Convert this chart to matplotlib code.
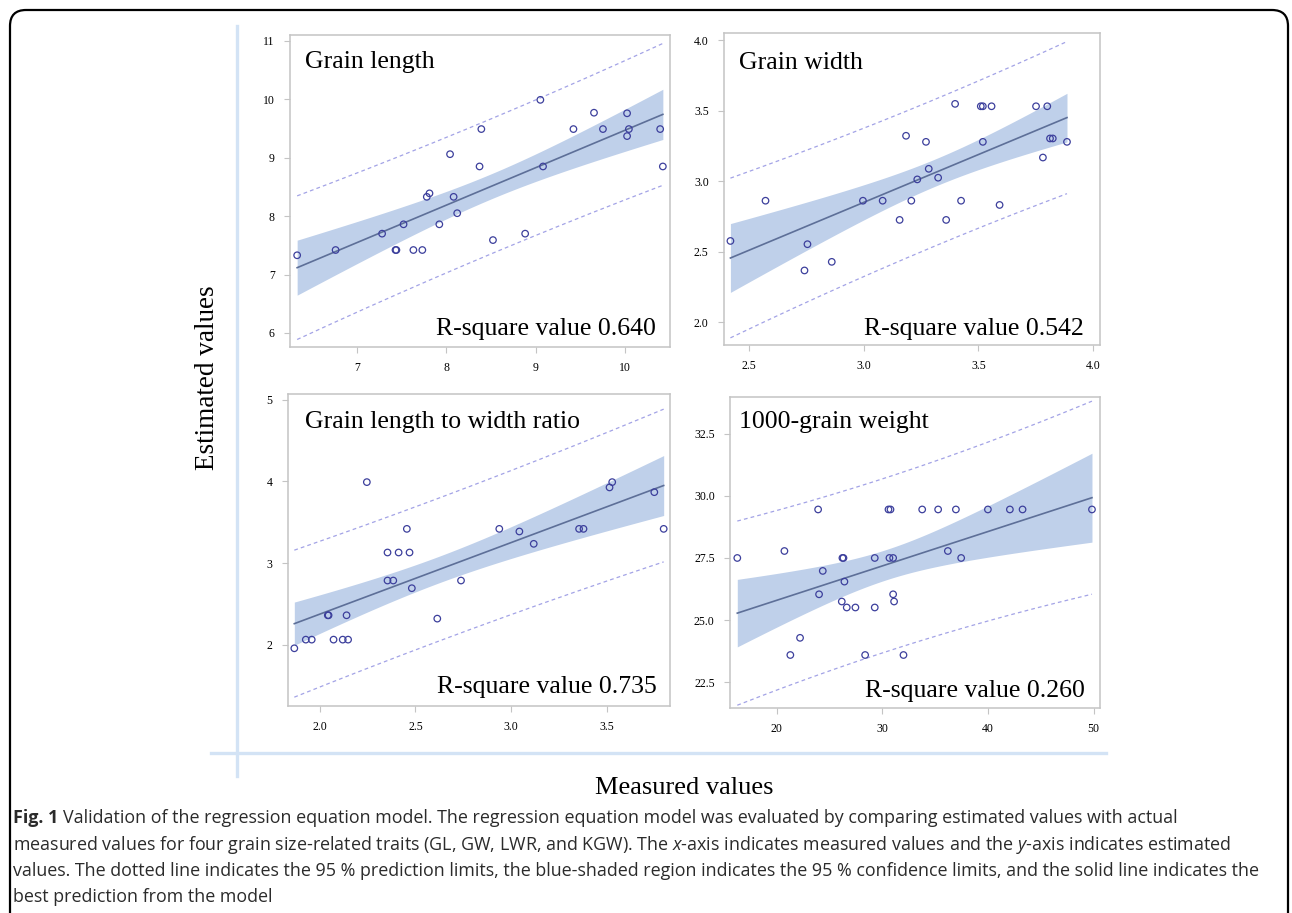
import matplotlib
matplotlib.use("Agg")
import matplotlib.pyplot as plt
from matplotlib.lines import Line2D
from matplotlib.patches import FancyBboxPatch
import numpy as np

# values
gl_x = [6.33, 6.76, 7.28, 7.43, 7.44, 7.52, 7.63, 7.73, 7.78, 7.81, 7.92, 8.04, 8.08, 8.12,
        8.37, 8.39, 8.52, 8.88, 9.05, 9.08, 9.42, 9.65, 9.75, 10.02, 10.02, 10.04, 10.39, 10.42]
gl_y = [7.33, 7.42, 7.70, 7.42, 7.42, 7.86, 7.42, 7.42, 8.33, 8.39, 7.86, 9.06, 8.33, 8.05,
        8.85, 9.49, 7.59, 7.70, 9.99, 8.85, 9.49, 9.77, 9.49, 9.76, 9.37, 9.49, 9.49, 8.85]

gw_x = [2.418, 2.571, 2.741, 2.754, 2.860, 2.996, 3.082, 3.156, 3.184, 3.207, 3.233, 3.271,
        3.283, 3.324, 3.359, 3.398, 3.424, 3.510, 3.519, 3.519, 3.557, 3.592, 3.751, 3.781,
        3.800, 3.812, 3.824, 3.886]
gw_y = [2.577, 2.862, 2.368, 2.554, 2.429, 2.862, 2.862, 2.726, 3.322, 2.862, 3.013, 3.279,
        3.088, 3.025, 2.726, 3.548, 2.862, 3.531, 3.531, 3.279, 3.531, 2.832, 3.531, 3.168,
        3.531, 3.303, 3.303, 3.279]

lwr_x = [1.867, 1.927, 1.958, 2.042, 2.046, 2.072, 2.120, 2.140, 2.148, 2.246, 2.354, 2.354,
         2.384, 2.412, 2.455, 2.469, 2.481, 2.614, 2.738, 2.938, 3.043, 3.118, 3.355, 3.378,
         3.514, 3.528, 3.748, 3.797]
lwr_y = [1.959, 2.065, 2.065, 2.363, 2.363, 2.065, 2.065, 2.363, 2.065, 3.992, 3.131, 2.788,
         2.788, 3.131, 3.420, 3.131, 2.694, 2.322, 2.788, 3.420, 3.388, 3.237, 3.420, 3.420,
         3.927, 3.992, 3.869, 3.420]

kgw_x = [16.27, 20.73, 21.29, 22.21, 23.92, 24.01, 24.36, 26.16, 26.22, 26.32, 26.41, 26.63,
         27.45, 28.37, 29.28, 29.28, 30.58, 30.77, 30.67, 31.02, 31.02, 31.11, 32.0, 33.77,
         35.28, 36.2, 36.96, 37.46, 39.99, 42.07, 43.27, 49.84]
kgw_y = [27.5, 27.78, 23.6, 24.29, 29.45, 26.04, 26.98, 25.75, 27.5, 27.5, 26.55, 25.51,
         25.51, 23.6, 27.5, 25.51, 29.45, 29.45, 27.5, 27.5, 26.04, 25.75, 23.6, 29.45,
         29.45, 27.78, 29.45, 27.5, 29.45, 29.45, 29.45, 29.45]

titles = ["Grain length", "Grain width", "Grain length to width ratio", "1000-grain weight"]
r2_labels = ["R-square value 0.640", "R-square value 0.542",
             "R-square value 0.735", "R-square value 0.260"]
xticks = [[7, 8, 9, 10], [2.5, 3.0, 3.5, 4.0], [2.0, 2.5, 3.0, 3.5], [20, 30, 40, 50]]
yticks = [[6, 7, 8, 9, 10, 11], [2.0, 2.5, 3.0, 3.5, 4.0], [2, 3, 4, 5],
          [22.5, 25.0, 27.5, 30.0, 32.5]]
xtick_fmt = ["{:.0f}", "{:.1f}", "{:.1f}", "{:.0f}"]
ytick_fmt = ["{:.0f}", "{:.1f}", "{:.0f}", "{:.1f}"]

SERIF = "Liberation Serif"
PT_COLOR = "#3c3f9c"
LINE_COLOR = "#5d6f98"
BAND_COLOR = "#bfd0ea"
PI_COLOR = "#a3a3e6"
FRAME_COLOR = "#c4c4c4"


def fit_bands(x, y, xs, t=2.05):
    """OLS line with 95 % confidence and prediction limits."""
    x = np.asarray(x, float)
    y = np.asarray(y, float)
    n = len(x)
    slope, icpt = np.polyfit(x, y, 1)
    resid = y - (icpt + slope * x)
    s = np.sqrt(np.sum(resid ** 2) / (n - 2))
    sxx = np.sum((x - x.mean()) ** 2)
    yhat = icpt + slope * xs
    se_m = s * np.sqrt(1.0 / n + (xs - x.mean()) ** 2 / sxx)
    se_p = s * np.sqrt(1.0 + 1.0 / n + (xs - x.mean()) ** 2 / sxx)
    return yhat, t * se_m, t * se_p


fig = plt.figure(figsize=(12.92, 9.13), dpi=100)

# rounded frame around the whole figure
frame = FancyBboxPatch((0.10, -0.30), 12.78, 9.33, boxstyle="round,pad=0,rounding_size=0.16",
                       transform=fig.dpi_scale_trans, fill=False, lw=1.6, ec="black")
fig.patches.append(frame)

W, H = 1292.0, 913.0
# light blue L-shaped axis lines
fig.add_artist(Line2D([237 / W, 237 / W], [1 - 26 / H, 1 - 776 / H], color="#d3e3f5", lw=2.4,
                      transform=fig.transFigure))
fig.add_artist(Line2D([211 / W, 1106 / W], [1 - 753 / H, 1 - 753 / H], color="#d3e3f5", lw=2.4,
                      transform=fig.transFigure))

# panel boxes in pixels: left, top, right, bottom
boxes = [(290, 35, 670, 347), (724, 33, 1100, 345), (288, 394, 670, 706), (730, 397, 1100, 708)]
xlims = [(6.25, 10.5), (2.39, 4.03), (1.834, 3.83), (15.58, 50.6)]
ylims = [(5.76, 11.1), (1.84, 4.05), (1.253, 5.07), (21.47, 33.97)]
title_pos = [(0.039, 0.894), (0.040, 0.885), (0.045, 0.891), (0.024, 0.900)]
r2_pos = [(0.963, 0.038), (0.957, 0.032), (0.966, 0.042), (0.959, 0.035)]
datasets = [(gl_x, gl_y), (gw_x, gw_y), (lwr_x, lwr_y), (kgw_x, kgw_y)]

for i, (xv, yv) in enumerate(datasets):
    l, t, r, b = boxes[i]
    ax = fig.add_axes([l / W, 1 - b / H, (r - l) / W, (b - t) / H])
    xs = np.linspace(min(xv), max(xv), 200)
    yhat, ci, pi = fit_bands(xv, yv, xs)
    ax.fill_between(xs, yhat - ci, yhat + ci, color=BAND_COLOR, lw=0, zorder=1)
    ax.plot(xs, yhat, color=LINE_COLOR, lw=1.2, zorder=2)
    ax.plot(xs, yhat + pi, color=PI_COLOR, lw=0.9, ls=(0, (3, 2.5)), zorder=2)
    ax.plot(xs, yhat - pi, color=PI_COLOR, lw=0.9, ls=(0, (3, 2.5)), zorder=2)
    ax.scatter(xv, yv, s=22, facecolors="none", edgecolors=PT_COLOR, linewidths=0.9, zorder=3)

    ax.set_xlim(*xlims[i])
    ax.set_ylim(*ylims[i])
    ax.set_xticks(xticks[i])
    ax.set_xticklabels([xtick_fmt[i].format(v) for v in xticks[i]])
    ax.set_yticks(yticks[i])
    ax.set_yticklabels([ytick_fmt[i].format(v) for v in yticks[i]])
    ax.tick_params(length=4, width=0.8, color=FRAME_COLOR, labelsize=8.5, pad=7)
    for lab in ax.get_xticklabels() + ax.get_yticklabels():
        lab.set_fontfamily(SERIF)
    for sp in ax.spines.values():
        sp.set_color(FRAME_COLOR)
        sp.set_linewidth(1.1)

    ax.text(*title_pos[i], titles[i], transform=ax.transAxes, family=SERIF, fontsize=18.5,
            ha="left", va="baseline")
    ax.text(*r2_pos[i], r2_labels[i], transform=ax.transAxes, family=SERIF, fontsize=18.5,
            ha="right", va="baseline")

fig.text(208 / W, 1 - 378 / H, "Estimated values", rotation=90, family=SERIF, fontsize=19.5,
         ha="center", va="center")
fig.text(684 / W, 1 - 788 / H, "Measured values", family=SERIF, fontsize=19,
         ha="center", va="center")

# caption
cap_lines = [
    "Validation of the regression equation model. The regression equation model was evaluated by comparing estimated values with actual",
    "measured values for four grain size-related traits (GL, GW, LWR, and KGW). The $x$-axis indicates measured values and the $y$-axis indicates estimated",
    "values. The dotted line indicates the 95 % prediction limits, the blue-shaded region indicates the 95 % confidence limits, and the solid line indicates the",
    "best prediction from the model",
]
cap_y = [818, 845, 871, 897]
CAP_FONT = "Open Sans"
CAP_SIZE = 12.9
CAP_COLOR = "#2b2b2b"
plt.rcParams["mathtext.fontset"] = "custom"
plt.rcParams["mathtext.it"] = "Open Sans:italic"
plt.rcParams["mathtext.rm"] = "Open Sans"

fig_lbl = fig.text(13 / W, 1 - cap_y[0] / H, "Fig. 1", family=CAP_FONT, fontsize=CAP_SIZE,
                   weight="bold", color=CAP_COLOR, ha="left", va="center")
fig.canvas.draw()
bb = fig_lbl.get_window_extent()
fig.text((bb.x1 + 5) / W, 1 - cap_y[0] / H, cap_lines[0], family=CAP_FONT, fontsize=CAP_SIZE,
         color=CAP_COLOR, ha="left", va="center")
for line, yy in zip(cap_lines[1:], cap_y[1:]):
    fig.text(13 / W, 1 - yy / H, line, family=CAP_FONT, fontsize=CAP_SIZE, color=CAP_COLOR,
             ha="left", va="center")

fig.savefig("out.png", dpi=100)
